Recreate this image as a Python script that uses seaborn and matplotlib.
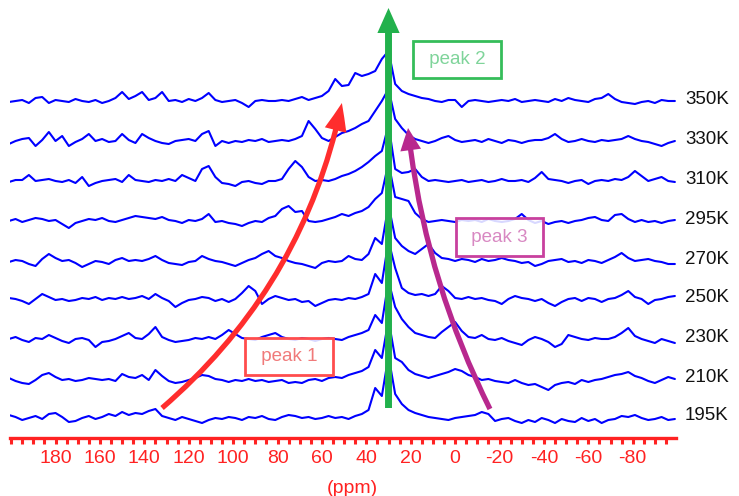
import numpy as np
import pandas as pd
import matplotlib
matplotlib.use("Agg")
import matplotlib.pyplot as plt
import seaborn as sns
from matplotlib.ticker import MultipleLocator, FixedLocator

# chemical shift grid (ppm), one reading every 3 ppm
ppm = np.arange(201, -100, -3)

temps = ['195K', '210K', '230K', '250K', '270K', '295K', '310K', '330K', '350K']
offsets = [0, 38, 79, 119, 157, 197, 237, 277, 317]

# intensities (pixels above each baseline)
t195 = [3, 1, -2, 0, 2, -1, 4, 5, 1, -4,
        -3, 0, 2, -1, 1, 4, 2, 6, 3, 5,
        4, 7, 9, 2, 0, -2, 1, -1, -3, -5,
        -2, 0, -1, 1, 0, -2, 1, 0, 2, -1,
        -2, 1, 3, 2, 0, 1, -1, 0, 2, 0,
        1, -1, 2, 4, 8, 30, 22, 62, 24, 14,
        8, 5, 3, 1, 0, -1, -2, 0, 1, 2,
        3, 6, 4, -3, -1, 0, -3, -5, -2, -4,
        0, -2, -5, -1, -3, -4, 0, -3, -1, -5,
        -2, -1, 2, 1, 3, 0, -2, -1, 1, -2,
        -1]
t210 = [2, -1, -3, -4, 0, 5, 7, 3, 0, 1,
        -1, 0, 2, 1, 0, 1, -1, 6, 3, 2,
        5, 0, 10, 4, -1, -3, -2, 0, 2, 5,
        4, 1, 0, -2, 0, -1, 1, -1, 0, -2,
        -1, 0, -3, -2, -3, 0, 1, -1, 2, 3,
        2, 5, 7, 9, 13, 30, 22, 60, 22, 18,
        10, 6, 4, 2, 4, 6, 8, 11, 9, 5,
        3, 0, 1, -1, -2, -3, 0, -3, -5, -4,
        -7, -10, -5, -3, -2, -4, 0, -2, 0, 1,
        3, 5, 6, 8, 4, 2, -1, -3, 0, 3,
        1]
t230 = [0, 2, -1, -3, 1, 0, 4, 1, -2, -4,
        0, 1, -1, -8, -3, -2, 0, 3, 6, 1,
        0, 5, 12, 2, -1, -3, -2, -1, 1, 0,
        2, 0, 4, 9, 5, 1, 0, -1, 2, 4,
        6, 2, 0, -1, 1, 0, -2, 0, 1, 0,
        -1, 2, 4, 6, 9, 24, 16, 58, 32, 20,
        12, 6, 4, 2, 1, 7, 12, 17, 8, 2,
        1, 4, 0, -1, 1, -2, -4, -6, -1, 2,
        0, -3, -8, -5, 4, 2, 0, -1, 1, 0,
        0, 2, 6, 11, 3, 0, -2, -4, 0, -2,
        -4]
t250 = [1, 0, -2, -5, 0, 5, 2, -1, 0, -2,
        -1, 1, 0, 2, -1, 1, 0, 2, 0, 1,
        3, 0, 5, 1, -2, -8, -4, -1, 0, 2,
        1, -2, 0, -3, 0, 6, 13, 8, -5, 0,
        3, 1, -1, 0, -3, -2, -7, -4, -1, 0,
        -1, 1, 0, 2, 5, 25, 16, 58, 31, 11,
        6, 4, 5, 3, 5, 13, 8, 1, 0, 2,
        0, 1, -1, -2, -5, 0, 3, 1, 0, -2,
        0, -4, -7, -3, 0, 1, -2, 1, 0, -3,
        0, 1, 4, 8, 2, 0, -5, -1, 0, 2,
        3]
t270 = [-1, 1, 0, -3, -5, 2, 7, 3, 0, 1,
        -2, -6, -3, 0, -1, -3, 1, 3, 0, 1,
        0, 2, 5, 1, -2, -3, -4, -1, 0, 5,
        2, 0, -1, -3, -5, -2, 1, 3, 7, 10,
        5, 3, 0, -2, -3, -5, -7, -2, 0, -1,
        0, 5, 2, 1, 7, 23, 17, 56, 23, 15,
        10, 7, 12, 17, 8, 3, 2, 0, 2, 1,
        -1, 2, 0, 1, 3, 1, 0, -2, -1, -5,
        -3, 0, 1, 2, -1, 0, -2, 1, 0, -2,
        1, 4, 8, 3, 0, 1, 2, 0, -1, -3,
        -3]
t295 = [0, 2, -1, 1, 3, 2, 0, 1, -3, -7,
        -2, 0, 2, 1, 3, 0, -1, 1, 3, 5,
        4, 3, 2, 4, 1, 0, -2, 1, 0, 2,
        7, -1, 0, -2, -3, -5, -2, 0, -1, 3,
        5, 12, 15, 9, 10, 0, -1, 0, 2, 4,
        7, 5, 8, 10, 14, 22, 28, 58, 24, 22,
        20, 8, 2, -1, 0, 1, 0, -1, 1, 0,
        1, -1, 2, 0, -1, 0, 2, 7, 1, -2,
        0, -3, -1, 0, -2, 0, 1, 3, 4, 1,
        0, 6, 7, 2, -1, 1, -1, 0, -2, 0,
        1]
t310 = [-1, 1, 1, 6, 0, 1, 2, 0, -1, 1,
        -2, 4, -5, -2, 0, 1, 2, -1, 6, 1,
        0, -1, 1, 0, 2, 0, 6, 3, 0, 12,
        15, 4, -2, -3, -5, -1, 0, -2, -3, 0,
        0, 2, 12, 20, 14, 4, 0, 1, 0, 2,
        5, 7, 10, 14, 19, 25, 30, 56, 12, 8,
        9, 12, 4, 0, 1, 0, -1, 0, 1, -1,
        0, 1, -1, 0, 2, 0, 0, 1, -1, 3,
        9, 2, 1, 0, -2, 0, 1, -3, 0, 1,
        0, 2, 1, 4, 10, 5, 0, 2, 4, 0,
        -1]
t330 = [-3, 0, 2, 3, -5, 1, 9, 0, 5, -5,
        -1, 2, 7, 0, 2, -1, 0, 7, 1, -2,
        7, 3, 0, -2, -3, 0, 1, 2, 0, 7,
        10, -5, 0, -2, 0, -1, 1, 0, 2, -1,
        0, 1, 0, 2, 5, 20, 12, 3, 0, 4,
        8, 10, 13, 17, 20, 30, 40, 52, 22, 13,
        6, 2, 0, -2, 0, 3, 5, 1, -1, 0,
        1, -1, 2, 0, -2, 1, 0, -2, 0, 1,
        1, 3, 7, 2, -1, 0, 2, 0, -1, 1,
        0, 1, 2, 5, 2, 0, -1, -3, -5, -2,
        0]
t350 = [-1, 0, 1, -2, 3, 4, -2, 1, 0, -1,
        2, 0, -1, 1, -2, 0, 3, 9, 2, 5,
        9, 1, 3, 9, 0, 1, -1, 2, 0, 3,
        8, 1, -1, 0, 1, -2, -6, 0, 1, 0,
        0, 1, 0, 2, 4, 1, 3, 5, 10, 22,
        15, 16, 28, 25, 27, 30, 42, 50, 17, 10,
        7, 5, 3, 2, 0, -1, 1, 1, -6, 0,
        1, 0, -1, 0, 1, 0, 2, -1, 0, 1,
        0, -1, 2, 0, 3, 1, 0, -1, 2, 3,
        7, 2, -1, -2, -3, -1, 0, -2, 1, 0,
        0]

traces = [t195, t210, t230, t250, t270, t295, t310, t330, t350]

frames = []
for temp, off, vals in zip(temps, offsets, traces):
    frames.append(pd.DataFrame({'ppm': ppm, 'y': np.array(vals) + off, 'temp': temp}))
df = pd.concat(frames, ignore_index=True)

sns.set_theme(style="white")
plt.rcParams['font.family'] = ['Liberation Sans', 'DejaVu Sans']
plt.rcParams['axes.unicode_minus'] = False

RED = '#ff2222'

fig = plt.figure(figsize=(7.39, 4.96), dpi=100)
ax = fig.add_axes([10 / 739, 58 / 496, 666 / 739, 438 / 496])

sns.lineplot(data=df, x='ppm', y='y', units='temp', estimator=None, sort=False,
             color='#0000ff', lw=1.5, ax=ax, zorder=2)

ax.set_xlim(200.5, -99.5)
ax.set_ylim(-20, 418)

# temperature labels on the right
for temp, off in zip(temps, offsets):
    ax.text(-103.5, off + 2, temp, fontsize=13.5, color='#111111', ha='left', va='center')

# arrows
ax.annotate('', xy=(30, 410), xytext=(30, 10), zorder=4,
            arrowprops=dict(arrowstyle='simple,head_length=1.8,head_width=1.6,tail_width=0.5',
                            mutation_scale=10, color='#22b14c', lw=0, shrinkA=0, shrinkB=0))
ax.annotate('', xy=(51, 315), xytext=(132, 10), zorder=4,
            arrowprops=dict(arrowstyle='simple,head_length=2.0,head_width=1.6,tail_width=0.38',
                            mutation_scale=10, color='#ff2d2d', lw=0, shrinkA=0, shrinkB=0,
                            connectionstyle='arc3,rad=0.17'))
ax.annotate('', xy=(21.2, 290), xytext=(-15.7, 9), zorder=4,
            arrowprops=dict(arrowstyle='simple,head_length=1.6,head_width=1.5,tail_width=0.38',
                            mutation_scale=10, color='#b8288e', lw=0, shrinkA=0, shrinkB=0,
                            connectionstyle='arc3,rad=-0.09'))

# peak labels
boxes = [(' peak 1 ', 74.8, 61.5, '#f07a7a', '#ff4d4d'),
         (' peak 2 ', -0.9, 358.5, '#7fd49a', '#35bd5a'),
         (' peak 3 ', -20.0, 181, '#d888c2', '#c8409e')]
for label, bx, by, tc, ec in boxes:
    ax.text(bx, by, label, fontsize=13.5, color=tc, ha='center', va='center', zorder=5,
            bbox=dict(boxstyle='square,pad=0.55', fc=(1, 1, 1, 0.85), ec=ec, lw=2))

# x axis in red
for side in ['top', 'right', 'left']:
    ax.spines[side].set_visible(False)
ax.spines['bottom'].set_color(RED)
ax.spines['bottom'].set_linewidth(2.4)
ax.xaxis.set_major_locator(FixedLocator(list(range(180, -100, -20))))
ax.xaxis.set_minor_locator(MultipleLocator(5))
ax.tick_params(axis='x', which='both', colors=RED, length=4.5, width=2.2, direction='out',
               pad=4, labelsize=14, bottom=True)
ax.set_yticks([])
ax.set_ylabel('')
ax.set_xlabel('(ppm)', color=RED, fontsize=14)
ax.xaxis.set_label_coords(0.5135, -0.096)

fig.savefig('out.png', dpi=100)
